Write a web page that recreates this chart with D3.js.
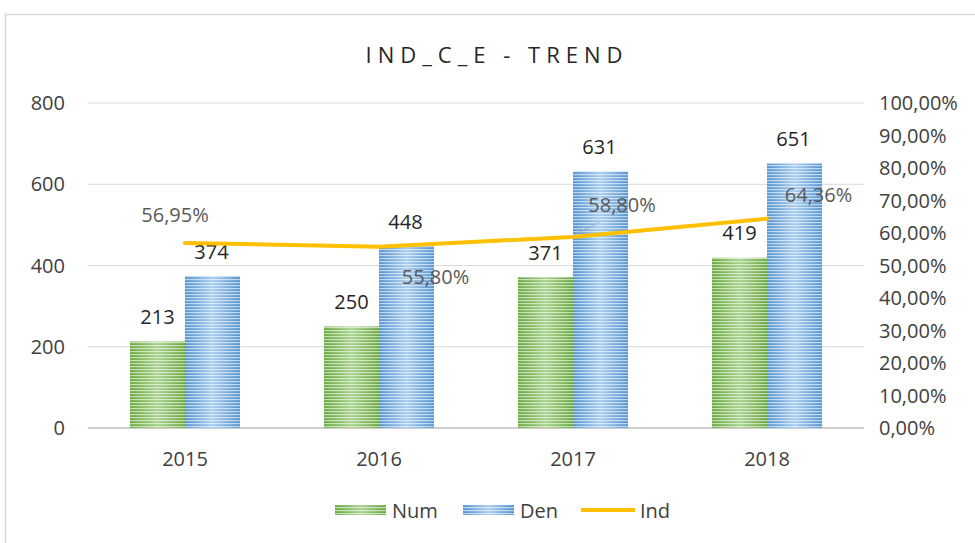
<!DOCTYPE html>
<html><head><meta charset="utf-8">
<script src="https://cdn.jsdelivr.net/npm/d3@7"></script>
<style>body{margin:0;background:#fff}svg{display:block}</style>
</head><body>
<script>
const years = ["2015","2016","2017","2018"];
const num = [213, 250, 371, 419];
const den = [374, 448, 631, 651];
const ind = [56.95, 55.80, 58.80, 64.36];
const leftTicks = [0, 200, 400, 600, 800];
const rightTicks = [0,10,20,30,40,50,60,70,80,90,100];
const indLabels = ["56,95%","55,80%","58,80%","64,36%"];

const W = 975, H = 543;
const svg = d3.select("body").append("svg").attr("width", W).attr("height", H);
const font = "'Open Sans', 'Noto Sans', sans-serif";

// frame
svg.append("rect").attr("x",5.5).attr("y",14.5).attr("width",W).attr("height",H)
  .attr("fill","#fff").attr("stroke","#d9d9d9").attr("stroke-width",1.5);

const defs = svg.append("defs");
function grad(id, c1, c2){
  const g = defs.append("linearGradient").attr("id", id).attr("x1",0).attr("x2",1).attr("y1",0).attr("y2",0);
  g.append("stop").attr("offset","0%").attr("stop-color",c1);
  g.append("stop").attr("offset","50%").attr("stop-color",c2);
  g.append("stop").attr("offset","100%").attr("stop-color",c1);
}
grad("gGreen", "#67a83d", "#a9d18e");
grad("gBlue", "#5393d0", "#a9cdef");
const stripes = defs.append("pattern").attr("id","stripes").attr("patternUnits","userSpaceOnUse")
  .attr("width", 6).attr("height", 3);
stripes.append("rect").attr("y",0).attr("width",6).attr("height",1.2).attr("fill","#ffffff").attr("opacity",0.6);

const x0 = 88, x1 = 864, yTop = 103, yBot = 428;
const x = d3.scaleBand().domain(years).range([x0, x1]).paddingInner(0).paddingOuter(0);
const y = d3.scaleLinear().domain([0, 800]).range([yBot, yTop]);
const yr = d3.scaleLinear().domain([0, 100]).range([yBot, yTop]);
const barW = 55;

// gridlines
svg.append("g").selectAll("line").data(leftTicks.filter(d=>d>0)).join("line")
  .attr("x1", x0).attr("x2", x1).attr("y1", d=>y(d)).attr("y2", d=>y(d))
  .attr("stroke","#d9d9d9").attr("stroke-width",1);
svg.append("line").attr("x1",x0).attr("x2",x1).attr("y1",yBot).attr("y2",yBot)
  .attr("stroke","#bfbfbf").attr("stroke-width",1.5);

const fs = 20;
// left axis labels
svg.append("g").selectAll("text").data(leftTicks).join("text")
  .attr("x", 65).attr("y", d=>y(d)).attr("dy","0.35em").attr("text-anchor","end")
  .attr("font-family",font).attr("font-size",fs).attr("fill","#404040").text(d=>d);
// right axis labels
svg.append("g").selectAll("text").data(rightTicks).join("text")
  .attr("x", 879).attr("y", d=>yr(d)).attr("dy","0.35em").attr("text-anchor","start")
  .attr("font-family",font).attr("font-size",fs).attr("fill","#404040")
  .text(d=>d3.format(".2f")(d).replace(".",",")+"%");
// x labels
svg.append("g").selectAll("text").data(years).join("text")
  .attr("x", d=>x(d)+x.bandwidth()/2).attr("y", 459).attr("dy","0.35em").attr("text-anchor","middle")
  .attr("font-family",font).attr("font-size",fs).attr("fill","#404040").text(d=>d);

// bars
const cx = d => x(d)+x.bandwidth()/2;
function bars(vals, off, gradId){
  const g = svg.append("g");
  g.selectAll("rect.b").data(vals).join("rect").attr("class","b")
    .attr("x",(d,i)=>cx(years[i])+off).attr("width",barW)
    .attr("y",d=>y(d)).attr("height",d=>yBot-y(d)).attr("fill","url(#"+gradId+")");
  g.selectAll("rect.s").data(vals).join("rect").attr("class","s")
    .attr("x",(d,i)=>cx(years[i])+off).attr("width",barW)
    .attr("y",d=>y(d)).attr("height",d=>yBot-y(d)).attr("fill","url(#stripes)");
}
bars(num, -barW, "gGreen");
bars(den, 0, "gBlue");

// bar labels
svg.append("g").selectAll("text").data(num).join("text")
  .attr("x",(d,i)=>cx(years[i])-barW/2).attr("y",d=>y(d)-24.5).attr("dy","0.35em")
  .attr("text-anchor","middle").attr("font-family",font).attr("font-size",fs).attr("fill","#262626").text(d=>d);
svg.append("g").selectAll("text").data(den).join("text")
  .attr("x",(d,i)=>cx(years[i])+barW/2-1).attr("y",d=>y(d)-24.5).attr("dy","0.35em")
  .attr("text-anchor","middle").attr("font-family",font).attr("font-size",fs).attr("fill","#262626").text(d=>d);

// line
const line = d3.line().x((d,i)=>cx(years[i])).y(d=>yr(d));
svg.append("path").datum(ind).attr("d",line).attr("fill","none")
  .attr("stroke","#ffc000").attr("stroke-width",4).attr("stroke-linecap","round");

// leader line 2017
svg.append("line").attr("x1",cx("2017")).attr("y1",yr(ind[2])-1).attr("x2",cx("2017")+28).attr("y2",yr(ind[2])-16)
  .attr("stroke","#a6a6a6").attr("stroke-width",0.8);

// ind labels
const indOff = [[-10,-28],[56.5,30],[49,-32],[51.5,-24]];
svg.append("g").selectAll("text").data(indLabels).join("text")
  .attr("x",(d,i)=>cx(years[i])+indOff[i][0]).attr("y",(d,i)=>yr(ind[i])+indOff[i][1]).attr("dy","0.35em")
  .attr("text-anchor","middle").attr("font-family",font).attr("font-size",fs).attr("fill","#595959").text(d=>d);

// title
svg.append("text").attr("x",497).attr("y",55).attr("dy","0.35em").attr("text-anchor","middle")
  .attr("font-family",font).attr("font-size",22).attr("letter-spacing","6px").attr("fill","#262626")
  .text("IND_C_E - TREND");

// legend
const lg = svg.append("g");
const ly = 510;
[["Num","gGreen",335],["Den","gBlue",463]].forEach(([t,gid,lx])=>{
  lg.append("rect").attr("x",lx).attr("y",ly-5).attr("width",51).attr("height",10).attr("fill","url(#"+gid+")");
  lg.append("rect").attr("x",lx).attr("y",ly-5).attr("width",51).attr("height",10).attr("fill","url(#stripes)");
  lg.append("text").attr("x",lx+57).attr("y",ly+1).attr("dy","0.35em").attr("font-family",font)
    .attr("font-size",fs).attr("fill","#404040").text(t);
});
lg.append("line").attr("x1",581).attr("x2",635).attr("y1",ly).attr("y2",ly).attr("stroke","#ffc000").attr("stroke-width",4);
lg.append("text").attr("x",640).attr("y",ly+1).attr("dy","0.35em").attr("font-family",font)
  .attr("font-size",fs).attr("fill","#404040").text("Ind");
</script>
</body></html>
